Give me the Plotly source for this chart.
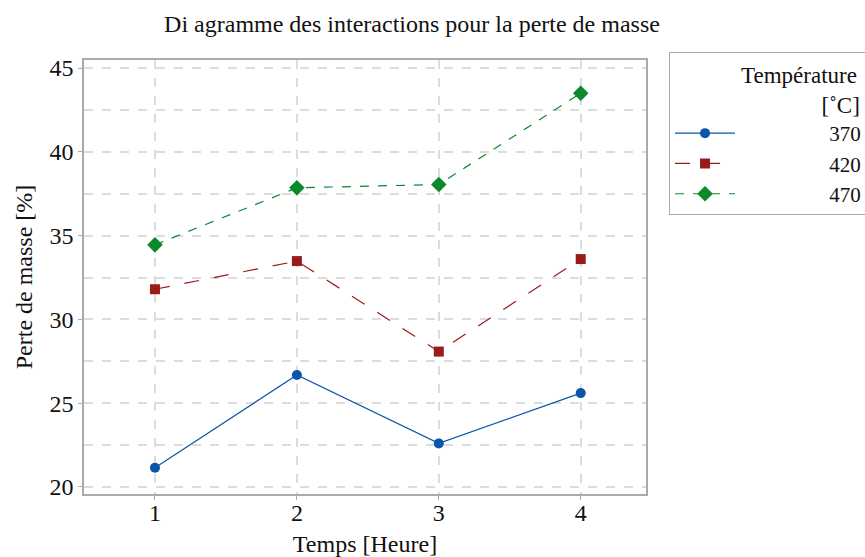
import plotly.graph_objects as go

temps = [1, 2, 3, 4]
series_names = ["370", "420", "470"]
v370 = [21.15, 26.68, 22.6, 25.6]
v420 = [31.8, 33.48, 28.08, 33.6]
v470 = [34.45, 37.85, 38.05, 43.5]
colors = ["#0a56a8", "#9b1a1a", "#0a8a2a"]
symbols = ["circle", "square", "diamond"]
dashes = ["solid", "longdash", "dash"]
values = [v370, v420, v470]

FONT = "Liberation Serif"
fig = go.Figure()
for name, vals, c, s, d in zip(series_names, values, colors, symbols, dashes):
    fig.add_trace(go.Scatter(
        x=temps, y=vals, name="\u00a0" * 17 + name, mode="lines+markers",
        line=dict(color=c, width=1.2, dash=d),
        marker=dict(color=c, symbol=s, size=10 if s != "diamond" else 12),
    ))

axis_common = dict(
    showline=True, linecolor="#aaaaaa", linewidth=1.5, mirror=True,
    ticks="outside", tickcolor="#aaaaaa", ticklen=4,
    showgrid=True, gridcolor="#dcdcdc", gridwidth=2, griddash="dash",
    zeroline=False, tickfont=dict(family=FONT, size=24, color="#111"),
)
fig.update_layout(
    width=865, height=557,
    margin=dict(l=84, r=219, t=60, b=63, autoexpand=False),
    paper_bgcolor="white", plot_bgcolor="white",
    font=dict(family=FONT, color="#111"),
    title=dict(text="Di agramme des interactions pour la perte de masse",
               x=412/865, xanchor="center", y=1 - 24/557, yanchor="middle",
               font=dict(family=FONT, size=24)),
    xaxis=dict(range=[0.5, 4.46], tickvals=temps, **axis_common, ticklabelstandoff=-8,
               title=dict(text="Temps [Heure]", font=dict(family=FONT, size=24))),
    yaxis=dict(range=[19.58, 45.48], tickvals=[20, 25, 30, 35, 40, 45], **axis_common,
               minor=dict(dtick=2.5, tick0=20, showgrid=True, gridcolor="#dcdcdc",
                          gridwidth=2, griddash="dash", ticks=""),
               title=dict(text="Perte de masse [%]", font=dict(family=FONT, size=24), standoff=10)),
    legend=dict(
        x=1.041, xanchor="left", y=1.018, yanchor="top",
        bordercolor="#aaaaaa", borderwidth=1, bgcolor="white",
        font=dict(family=FONT, size=21),
        title=dict(text="\u00a0" * 12 + "Température<br>" + "\u00a0" * 26 + "[˚C]",
                   font=dict(family=FONT, size=23)),
        tracegroupgap=0, itemwidth=60,
    ),
)
fig.write_html("out.html")
